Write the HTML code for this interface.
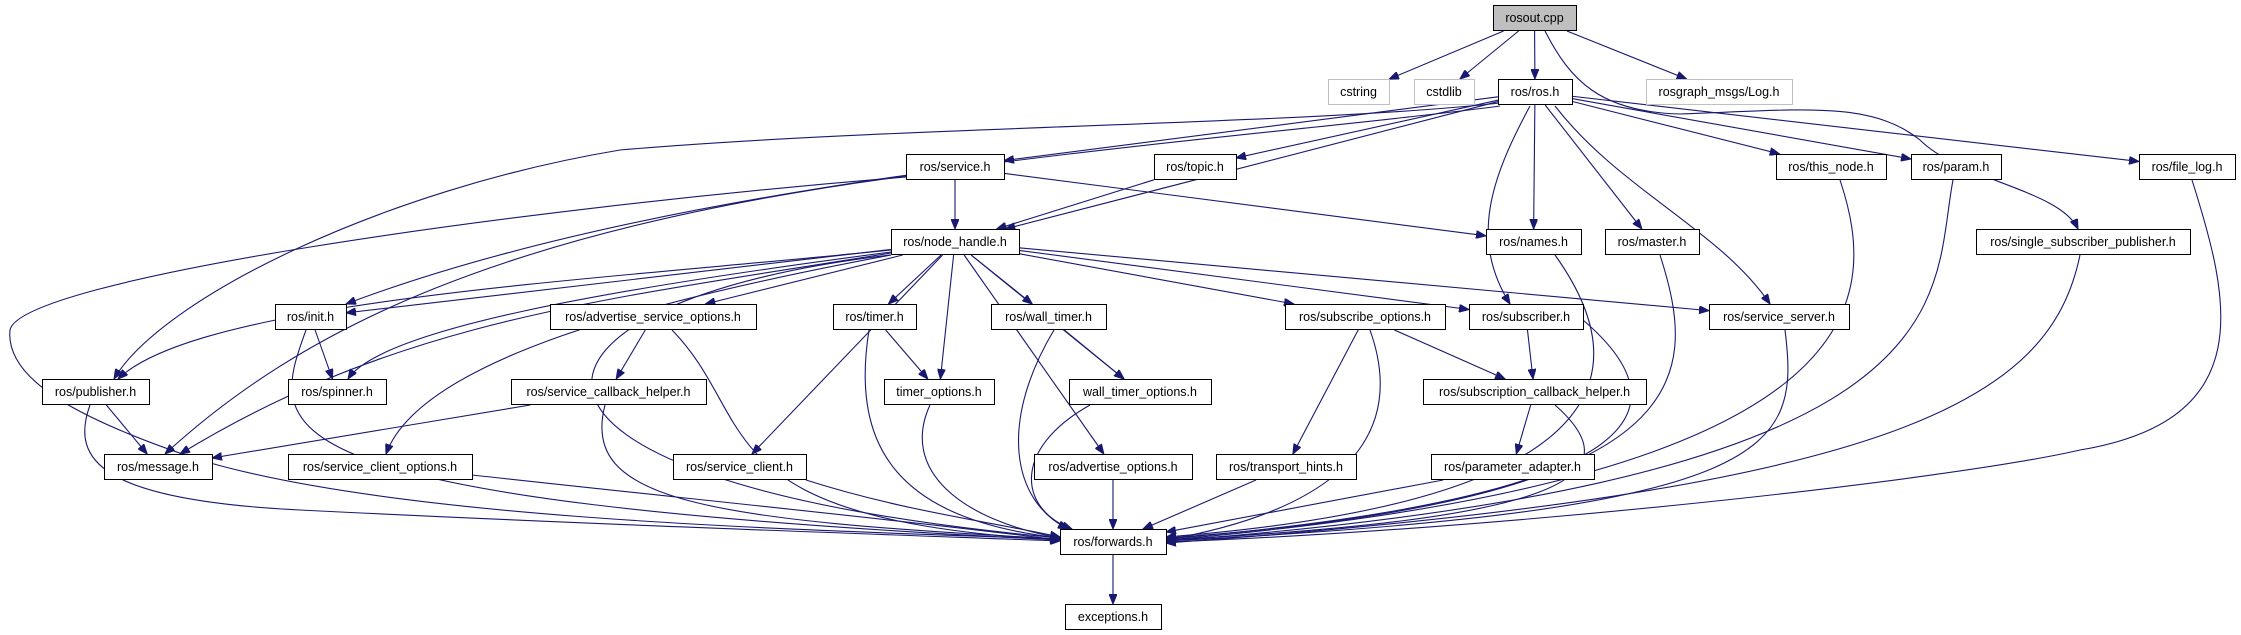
<!DOCTYPE html>
<html><head><meta charset="utf-8">
<style>
html,body{margin:0;padding:0;background:#fff;}
svg{display:block;}
text{font-family:"Liberation Sans",Arial,sans-serif;font-size:12.5px;fill:#000;}
</style></head>
<body>
<svg id="g" width="2241" height="635" viewBox="0 0 2241 635" xmlns="http://www.w3.org/2000/svg">
<defs>
<marker id="ar" markerUnits="userSpaceOnUse" markerWidth="11" markerHeight="8" refX="10" refY="4" orient="auto">
<path d="M0,0 L10,4 L0,8 z" fill="#191970" stroke="#191970"/>
</marker>
</defs>
<g id="edges" fill="none" stroke="#191970" stroke-width="1.1"></g>
<g id="nodes"></g>
</svg>
<script>
var R=[5,79,154,229,304,379,454,529,604];
var N={
rosout:["rosout.cpp",1493,1576,0,2],
cstring:["cstring",1328,1389,1,1],
cstdlib:["cstdlib",1414,1474,1,1],
ros:["ros/ros.h",1498,1572,1,0],
log:["rosgraph_msgs/Log.h",1646,1792,1,1],
service:["ros/service.h",906,1004,2,0],
topic:["ros/topic.h",1154,1236,2,0],
thisnode:["ros/this_node.h",1776,1886,2,0],
param:["ros/param.h",1911,2001,2,0],
filelog:["ros/file_log.h",2139,2235,2,0],
nh:["ros/node_handle.h",891,1019,3,0],
names:["ros/names.h",1486,1581,3,0],
master:["ros/master.h",1605,1699,3,0],
ssp:["ros/single_subscriber_publisher.h",1976,2190,3,0],
init:["ros/init.h",275,346,4,0],
aso:["ros/advertise_service_options.h",550,756,4,0],
timer:["ros/timer.h",833,916,4,0],
wtimer:["ros/wall_timer.h",991,1106,4,0],
subopt:["ros/subscribe_options.h",1285,1445,4,0],
sub:["ros/subscriber.h",1469,1583,4,0],
srvsrv:["ros/service_server.h",1709,1849,4,0],
pub:["ros/publisher.h",42,149,5,0],
spinner:["ros/spinner.h",288,386,5,0],
sch:["ros/service_callback_helper.h",511,706,5,0],
topt:["timer_options.h",884,994,5,0],
wtopt:["wall_timer_options.h",1069,1211,5,0],
subcb:["ros/subscription_callback_helper.h",1423,1646,5,0],
msg:["ros/message.h",104,212,6,0],
sco:["ros/service_client_options.h",288,472,6,0],
sc:["ros/service_client.h",673,806,6,0],
ao:["ros/advertise_options.h",1034,1192,6,0],
th:["ros/transport_hints.h",1216,1356,6,0],
pa:["ros/parameter_adapter.h",1431,1594,6,0],
fwd:["ros/forwards.h",1060,1166,7,0],
exc:["exceptions.h",1065,1161,8,0]
};
var E=[
["rosout","cstring"],["rosout","cstdlib"],["rosout","ros"],["rosout","log"],
["ros","service"],["ros","topic"],["ros","nh"],["ros","names"],["ros","master"],
["ros","thisnode"],["ros","param"],["ros","filelog"],
["service","nh"],["service","names"],
["topic","nh"],
["nh","init"],["nh","aso"],["nh","sc"],
["nh","timer"],["nh","topt"],["nh","wtimer"],["nh","wtopt"],["nh","ao"],["nh","subopt"],["nh","sub"],["nh","srvsrv"],
["init","spinner"],
["aso","sch"],
["timer","topt"],
["wtimer","wtopt"],
["subopt","th"],["subopt","subcb"],
["sub","subcb"],
["pub","msg"],["sch","msg"],
["ao","fwd"],["th","fwd"],["pa","fwd"],["subcb","pa"],
["fwd","exc"]
];
var C=[
"M1545,31 C1570,80 1600,112 1680,114 C1800,110 1870,100 1920,140 C1960,180 2060,190 2078,229", //rosout->ssp
"M1500,103 C1300,125 900,126 620,150 C380,190 160,300 114,379", //ros->pub
"M1500,106 C1250,140 700,170 346,304", //ros->init
"M1530,106 C1490,180 1470,240 1510,304", //ros->sub
"M1555,106 C1620,190 1720,230 1770,304", //ros->srvsrv
"M906,177 C500,210 20,280 10,330 C5,380 80,420 200,460 C400,520 800,530 1060,539", //service->fwd
"M906,176 C500,230 300,330 165,454", //service->msg
"M891,250 C600,280 200,300 118,379", //nh->pub
"M891,253 C600,300 400,320 180,454", //nh->msg
"M891,252 C600,290 380,330 348,379", //nh->spinner
"M891,255 C650,300 420,360 386,454", //nh->sco
"M891,255 C500,300 430,480 1060,538", //nh->fwd
"M306,330 C270,430 240,500 1060,540",//init->fwd
"M672,330 C760,420 700,520 1060,540",//aso->fwd
"M869,330 C850,450 900,520 1060,538",//timer->fwd
"M1054,330 C1000,420 1010,500 1068,529",//wtimer->fwd
"M1370,330 C1395,400 1390,500 1166,540",//subopt->fwd
"M1583,320 C1700,420 1620,500 1166,539",//sub->fwd
"M1785,330 C1800,450 1780,510 1166,541",//srvsrv->fwd
"M1555,255 C1630,360 1640,500 1166,537",//names->fwd
"M1660,255 C1700,380 1700,500 1166,538",//master->fwd
"M1840,180 C1880,300 1880,480 1166,540",//thisnode->fwd
"M1953,180 C1930,300 1980,480 1166,541",//param->fwd
"M2192,180 C2230,300 2260,420 2080,450 C1950,480 1500,530 1166,542",//filelog->fwd
"M2080,255 C2050,400 1900,490 1166,543",//ssp->fwd
"M90,405 C70,460 100,500 300,510 C600,525 900,535 1060,541",//pub->fwd
"M605,405 C580,500 700,520 1060,539",//sch->fwd
"M930,405 C900,470 960,520 1060,538",//topt->fwd
"M1090,405 C1010,450 1020,510 1072,529",//wtopt->fwd
"M472,475 C700,500 900,520 1060,540",//sco->fwd
"M806,480 C900,510 980,520 1060,537",//sc->fwd
"M1555,405 C1640,480 1550,520 1166,540"//subcb->fwd
];
var NS="http://www.w3.org/2000/svg";
var eg=document.getElementById("edges"),ng=document.getElementById("nodes");
function clip(n,px,py){
 var y=R[n[3]],cx=(n[1]+n[2])/2,cy=y+13,hw=(n[2]-n[1])/2,hh=13;
 var dx=px-cx,dy=py-cy;
 var t=Math.min(Math.abs(dx)>0?hw/Math.abs(dx):1e9,Math.abs(dy)>0?hh/Math.abs(dy):1e9);
 return [cx+dx*t,cy+dy*t];
}
function add(d){
 var p=document.createElementNS(NS,"path");
 p.setAttribute("d",d);p.setAttribute("marker-end","url(#ar)");
 eg.appendChild(p);
}
E.forEach(function(e){
 var A=N[e[0]],B=N[e[1]];
 var ac=(A[1]+A[2])/2,bc=(B[1]+B[2])/2,ay=R[A[3]]+13,by=R[B[3]]+13;
 var s=clip(A,bc,by),t=clip(B,ac,ay);
 add("M"+s[0]+","+s[1]+" L"+t[0]+","+t[1]);
});
C.forEach(add);
for(var k in N){
 var n=N[k],y=R[n[3]];
 var r=document.createElementNS(NS,"rect");
 r.setAttribute("x",n[1]+0.5);r.setAttribute("y",y+0.5);
 r.setAttribute("width",n[2]-n[1]);r.setAttribute("height",25);
 r.setAttribute("fill",n[4]==2?"#bfbfbf":"#fff");
 r.setAttribute("stroke",n[4]==1?"#bfbfbf":"#000");
 ng.appendChild(r);
 var t=document.createElementNS(NS,"text");
 t.setAttribute("x",(n[1]+n[2])/2);t.setAttribute("y",y+17);
 t.setAttribute("text-anchor","middle");
 t.textContent=n[0];
 ng.appendChild(t);
}
</script>
</body></html>
